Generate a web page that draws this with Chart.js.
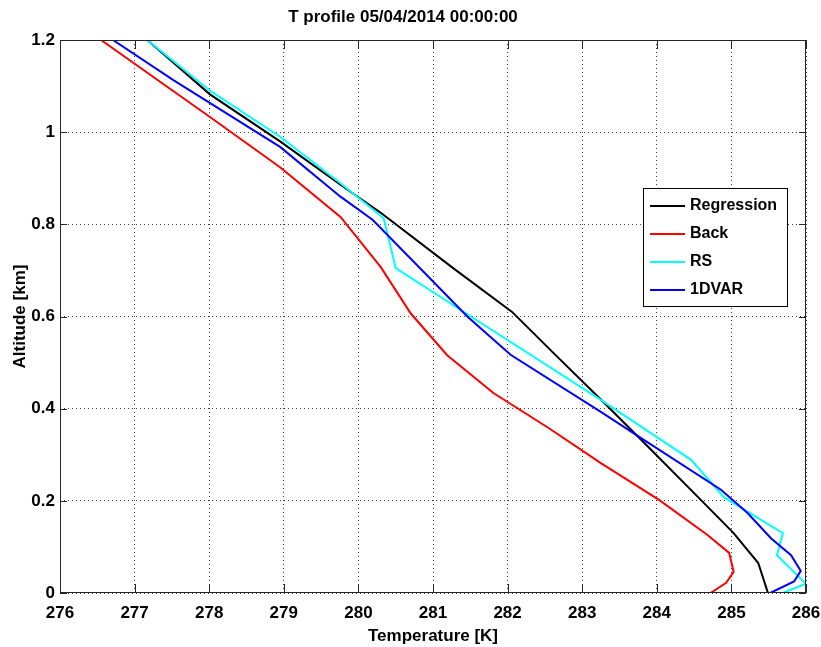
<!DOCTYPE html>
<html lang="en">

<head>
  <meta charset="UTF-8" />
  <title>T profile</title>
  <script src="https://cdn.jsdelivr.net/npm/chart.js"></script>
  <style>
    * {
      box-sizing: border-box;
      margin: 0;
      padding: 0
    }

    body {
      background: #fff;
      width: 821px;
      height: 647px;
      overflow: hidden
    }

    canvas {
      display: block
    }
  </style>
</head>

<body>
  <canvas id="grafico" width="821" height="647"></canvas>
  <script>
    // series: temperature [K] vs altitude [km]
    const regressionT = [277.17, 278.01, 278.95, 279.76, 280.3, 281.27, 282.06, 282.62, 283.25, 283.83, 284.59, 285.03, 285.36, 285.49];
    const regressionAlt = [1.2, 1.082, 0.98, 0.886, 0.825, 0.705, 0.61, 0.52, 0.42, 0.326, 0.202, 0.13, 0.065, 0];

    const backT = [276.55, 278.01, 278.95, 279.76, 280.3, 280.7, 281.19, 281.81, 282.55, 283.25, 284.03, 284.68, 284.97, 285.03, 284.93, 284.72];
    const backAlt = [1.2, 1.033, 0.924, 0.816, 0.707, 0.607, 0.516, 0.434, 0.358, 0.282, 0.202, 0.126, 0.087, 0.046, 0.022, 0];

    const rsT = [277.17, 278.01, 278.95, 279.76, 280.34, 280.5, 281.44, 283.25, 284.46, 284.9, 285.69, 285.61, 286.0, 285.69];
    const rsAlt = [1.2, 1.09, 0.99, 0.889, 0.813, 0.705, 0.607, 0.419, 0.289, 0.208, 0.13, 0.082, 0.02, 0];

    const dvarT = [276.71, 277.52, 278.95, 279.76, 280.19, 281.46, 282.04, 283.25, 283.79, 284.86, 285.22, 285.53, 285.8, 285.93, 285.84, 285.52];
    const dvarAlt = [1.2, 1.113, 0.968, 0.86, 0.81, 0.6, 0.517, 0.393, 0.336, 0.224, 0.173, 0.119, 0.082, 0.048, 0.025, 0];

    const seriesNames = ['Regression', 'Back', 'RS', '1DVAR'];
    const seriesColors = ['#000000', '#ff0000', '#00ffff', '#0000ff'];

    const xTicks = [276, 277, 278, 279, 280, 281, 282, 283, 284, 285, 286];
    const yTicks = [0, 0.2, 0.4, 0.6, 0.8, 1, 1.2];

    const FONT = "'Liberation Sans', Arial, sans-serif";

    const pares = (ts, as) => ts.map((t, i) => ({ x: t, y: as[i] }));
    const allSeries = [[regressionT, regressionAlt], [backT, backAlt], [rsT, rsAlt], [dvarT, dvarAlt]];

    const datasets = allSeries.map((s, i) => ({
      label: seriesNames[i],
      data: pares(s[0], s[1]),
      borderColor: seriesColors[i],
      backgroundColor: seriesColors[i],
      borderWidth: 2,
      pointRadius: 0,
      showLine: true,
      tension: 0,
      order: 4 - i
    }));

    // box, inward ticks and legend like the matlab figure
    const marcoPlugin = {
      id: 'marco',
      afterDatasetsDraw(chart) {
        const { ctx, chartArea: a, scales } = chart;
        ctx.save();
        ctx.strokeStyle = '#262626';
        ctx.lineWidth = 1;
        ctx.strokeRect(a.left + 0.5, a.top + 0.5, a.right - a.left - 1, a.bottom - a.top - 1);
        ctx.beginPath();
        scales.x.ticks.forEach(t => {
          const px = Math.round(scales.x.getPixelForValue(t.value)) + 0.5;
          ctx.moveTo(px, a.bottom); ctx.lineTo(px, a.bottom - 9);
          ctx.moveTo(px, a.top); ctx.lineTo(px, a.top + 9);
        });
        scales.y.ticks.forEach(t => {
          const py = Math.round(scales.y.getPixelForValue(t.value)) + 0.5;
          ctx.moveTo(a.left, py); ctx.lineTo(a.left + 7, py);
          ctx.moveTo(a.right, py); ctx.lineTo(a.right - 7, py);
        });
        ctx.stroke();

        // legend
        const lx = 643, ly = 188, lw = 144, lh = 118;
        ctx.fillStyle = '#fff';
        ctx.fillRect(lx, ly, lw, lh);
        ctx.strokeStyle = '#000';
        ctx.strokeRect(lx + 0.5, ly + 0.5, lw, lh);
        ctx.font = 'bold 16px ' + FONT;
        ctx.textBaseline = 'middle';
        ctx.textAlign = 'left';
        chart.data.datasets.forEach((d, i) => {
          const y = ly + 18 + i * 28;
          ctx.strokeStyle = d.borderColor;
          ctx.lineWidth = 2;
          ctx.beginPath();
          ctx.moveTo(lx + 7, y); ctx.lineTo(lx + 42, y);
          ctx.stroke();
          ctx.fillStyle = '#000';
          ctx.fillText(d.label, lx + 47, y);
        });
        ctx.restore();
      }
    };

    const ctx = document.getElementById('grafico').getContext('2d');
    new Chart(ctx, {
      type: 'scatter',
      data: { datasets },
      options: {
        responsive: false,
        animation: false,
        layout: { padding: { left: 0, right: 15, top: 0, bottom: 0 } },
        plugins: {
          legend: { display: false },
          tooltip: { enabled: false },
          title: {
            display: true,
            text: 'T profile 05/04/2014 00:00:00',
            color: '#000',
            font: { family: FONT, size: 17, weight: 'bold' },
            padding: { top: 6.8, bottom: 12.8 }
          }
        },
        scales: {
          x: {
            type: 'linear',
            min: xTicks[0],
            max: xTicks[xTicks.length - 1],
            afterBuildTicks: s => { s.ticks = xTicks.map(v => ({ value: v })); },
            afterFit: s => { s.height = 54; s.paddingLeft = 0; s.paddingRight = 0; },
            grid: { color: 'rgba(0,0,0,0.75)', drawTicks: false, lineWidth: 1 },
            border: { display: false, dash: [1, 3] },
            ticks: {
              color: '#000',
              padding: 10,
              font: { family: FONT, size: 17, weight: 'bold' },
              maxRotation: 0,
              autoSkip: false
            },
            title: {
              display: true,
              text: 'Temperature [K]',
              color: '#000',
              font: { family: FONT, size: 17, weight: 'bold' },
              padding: { top: 0, bottom: 0 }
            }
          },
          y: {
            type: 'linear',
            min: yTicks[0],
            max: yTicks[yTicks.length - 1],
            afterBuildTicks: s => { s.ticks = yTicks.map(v => ({ value: v })); },
            afterFit: s => { s.width = 60; },
            grid: { color: 'rgba(0,0,0,0.75)', drawTicks: false, lineWidth: 1 },
            border: { display: false, dash: [1, 3] },
            ticks: {
              color: '#000',
              padding: 5,
              font: { family: FONT, size: 17, weight: 'bold' },
              callback: v => String(Math.round(v * 10) / 10)
            },
            title: {
              display: true,
              text: 'Altitude [km]',
              color: '#000',
              font: { family: FONT, size: 17, weight: 'bold' },
              padding: { top: 9.8, bottom: 0 }
            }
          }
        }
      },
      plugins: [marcoPlugin]
    });
  </script>
</body>

</html>
